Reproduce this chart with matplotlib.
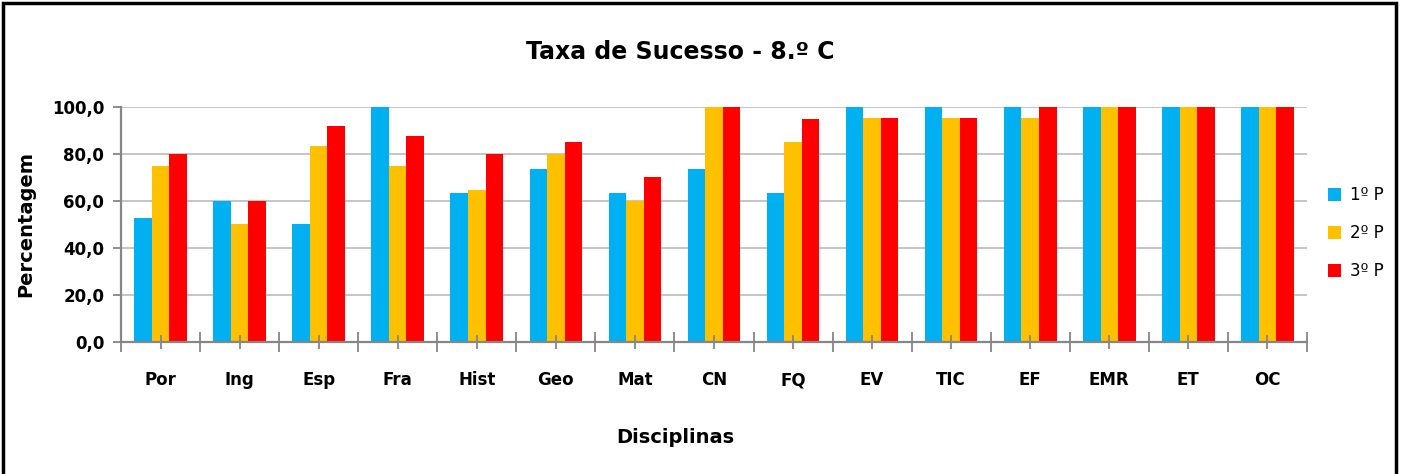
import numpy as np
import matplotlib.pyplot as plt
from matplotlib.patches import Rectangle
from matplotlib.ticker import FuncFormatter, FixedLocator

plt.rcParams['font.family'] = ['DejaVu Sans']

disciplinas = ["Por", "Ing", "Esp", "Fra", "Hist", "Geo", "Mat", "CN", "FQ",
               "EV", "TIC", "EF", "EMR", "ET", "OC"]
p1 = [52.6, 60.0, 50.0, 100.0, 63.2, 73.7, 63.2, 73.7, 63.2, 100.0, 100.0, 100.0, 100.0, 100.0, 100.0]
p2 = [75.0, 50.0, 83.3, 75.0, 64.7, 80.0, 60.0, 100.0, 85.0, 95.5, 95.5, 95.5, 100.0, 100.0, 100.0]
p3 = [80.0, 60.0, 91.7, 87.5, 80.0, 85.0, 70.0, 100.0, 95.0, 95.5, 95.5, 100.0, 100.0, 100.0, 100.0]
series = [("1º P", p1, "#00B0F0"), ("2º P", p2, "#FFC000"), ("3º P", p3, "#FF0000")]

fig = plt.figure(figsize=(14.02, 4.74), dpi=100)
ax = fig.add_axes([0.0863, 0.2785, 0.8459, 0.4958])

x = np.arange(len(disciplinas))
w = 0.222
for i, (lab, vals, col) in enumerate(series):
    ax.bar(x + (i - 1) * w, vals, w, color=col, label=lab, zorder=2)

ax.set_xlim(-0.5, len(disciplinas) - 0.5)
ax.set_ylim(0, 100)
ax.set_yticks(np.arange(0, 101, 20))
ax.yaxis.set_major_formatter(FuncFormatter(lambda v, p: f"{v:.1f}".replace(".", ",")))
ax.yaxis.grid(True, color="#c0c0c0", linewidth=1.3)
ax.yaxis.set_zorder(0.5)
ax.xaxis.set_zorder(5)

# ticks at category boundaries (major) and centres (minor), labels at centres
ax.xaxis.set_major_locator(FixedLocator(np.arange(-0.5, len(disciplinas), 1)))
ax.set_xticklabels([])
ax.set_xticks(x, minor=True)
ax.set_xticklabels(disciplinas, minor=True, fontsize=12, fontweight="bold")
ax.tick_params(axis="x", which="major", direction="inout", length=14, color="#868686", width=1.3)
ax.tick_params(axis="x", which="minor", direction="inout", length=10, color="#868686", width=1.3, pad=16)
ax.tick_params(axis="y", direction="out", length=6, color="#868686", width=1.3, labelsize=12, pad=6)
for t in ax.get_yticklabels():
    t.set_fontweight("bold")

for s in ["top", "right"]:
    ax.spines[s].set_visible(False)
for s in ["left", "bottom"]:
    ax.spines[s].set_color("#868686")
    ax.spines[s].set_linewidth(1.6)
    ax.spines[s].set_zorder(4)

ax.set_ylabel("Percentagem", fontsize=14, fontweight="bold", labelpad=12)
fig.text(0.482, 0.078, "Disciplinas", ha="center", va="center",
         fontsize=14, fontweight="bold")
fig.text(0.485, 0.89, "Taxa de Sucesso - 8.º C", ha="center", va="center",
         fontsize=17, fontweight="bold")

ax.legend(loc="center left", bbox_to_anchor=(1.005, 0.464), frameon=False,
          fontsize=12, handlelength=0.8, handleheight=0.8, labelspacing=1.2,
          handletextpad=0.5)

fig.patches.append(Rectangle((0.002, -0.05), 0.994, 1.043, transform=fig.transFigure,
                             fill=False, edgecolor="black", linewidth=2.5))

fig.savefig("out.png", dpi=100)
